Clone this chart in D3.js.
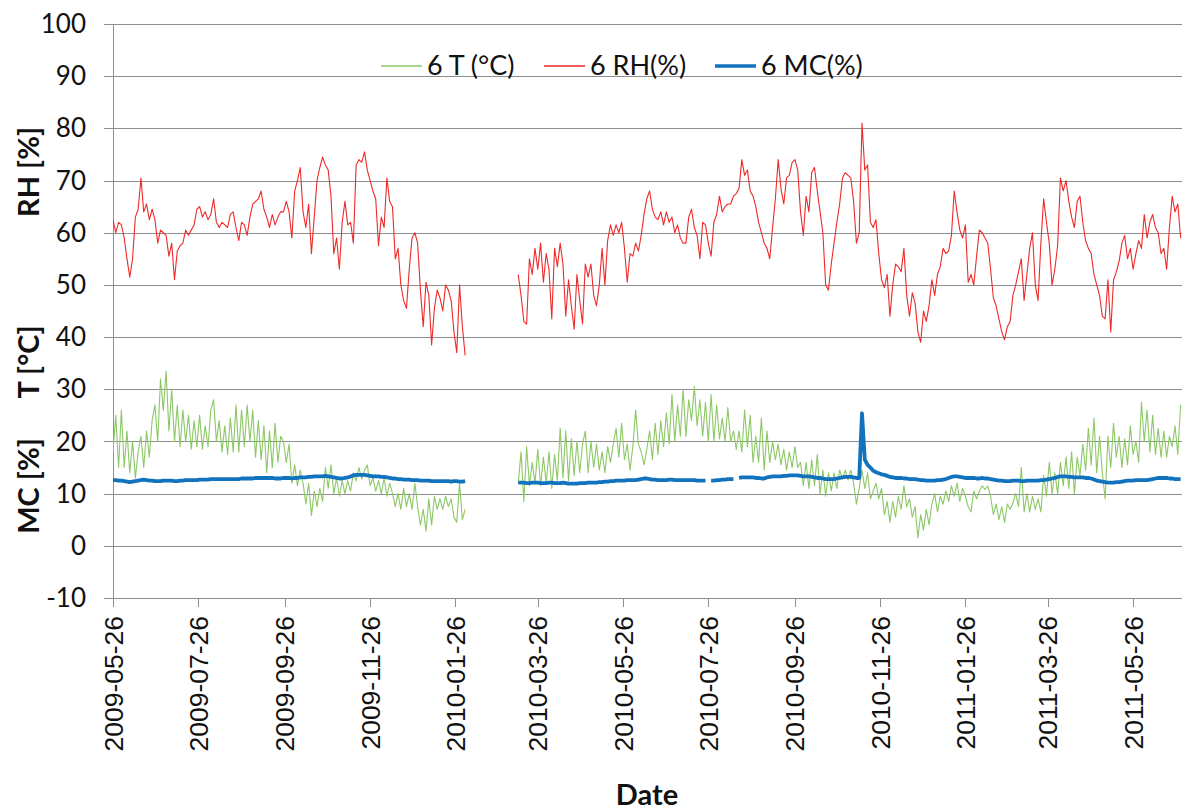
<!DOCTYPE html>
<html><head><meta charset="utf-8">
<script src="https://cdn.jsdelivr.net/npm/d3@7"></script>
<style>body{margin:0;background:#fff}svg{display:block}</style>
</head><body><svg id="chart" width="1182" height="812"></svg>
<script>
// ---------- data ----------
const tickLabels = ["2009-05-26","2009-07-26","2009-09-26","2009-11-26","2010-01-26","2010-03-26",
  "2010-05-26","2010-07-26","2010-09-26","2010-11-26","2011-01-26","2011-03-26","2011-05-26"];
const yTickValues = [-10,0,10,20,30,40,50,60,70,80,90,100];
const seriesNames = ["6 T (°C)", "6 RH(%)", "6 MC(%)"];
const domainStart = "2009-05-26", domainEnd = "2011-06-30";
const startA = "2009-05-26";   // first logging period, one reading every 2 days
const startB = "2010-03-12";   // second logging period, one reading every 2 days
const stepDays = 2;

const rhA = [62.5,60,62,61.5,59,55,51.5,55,63,64.5,
 70.5,64,65.5,62.5,64.5,62.5,58,60.5,60,59.5,
 55.5,58,51,56.5,57.5,58,60.5,59.5,60.5,61.5,
 64.5,65,63,64,62.5,63.5,66.5,62,61,62,
 61.5,61,63.5,64,61,58.5,62,61.5,59.5,63,
 65.5,66,66.5,68,64.5,63,61,63.5,61.5,63,
 64,64,66,64,59,68,70,72.5,64,61,
 65.5,56,63,70,72.5,74.5,73,72,67,56,
 59,53,62,66,61.5,62,58,73,74,73.5,
 75.5,72,70,68,66.5,57.5,63,61,70.5,66,
 65,55,57,50,47,45.5,53,59,60,58,
 49,42,50.5,48,38.5,45.5,49,47.5,45,50,
 49,47,41,37,50,42,36.5];
const tA = [18,25,15,26,15,22,14,20,13,18,
 21,15,22,17,24,27,20,32,26,33.5,
 22,30,20,27,19,26,20,25,18.5,24,
 19,25,18.5,23,19,26,28,20,24,18,
 23,17.5,24.5,18,27,18,26,19,27,20,
 26,17,24,16.5,23,14,22,15,23.5,16,
 21,20,16,19.5,12,15.5,11.5,14.5,12,8,
 12,5.8,10.5,7.5,11,8.5,15,11,15.5,10,
 13,9.5,12.5,10,12.5,10.5,14,12.5,15,12.8,
 14.5,15.5,11.5,13,10.5,12.5,10,13,9.5,12,
 10,7.5,10,7,11,7.5,10,7,12,7.5,
 4,7,2.8,9,4,9.5,7,9,7,9.5,
 7.5,9,5.5,4.5,12,5,7];
const mcA = [12.6,12.6,12.5,12.5,12.4,12.3,12.2,12.3,12.4,12.5,
 12.6,12.7,12.6,12.5,12.5,12.4,12.4,12.4,12.5,12.5,
 12.5,12.5,12.4,12.4,12.5,12.5,12.6,12.6,12.6,12.6,
 12.6,12.7,12.7,12.7,12.7,12.8,12.8,12.8,12.8,12.8,
 12.8,12.8,12.8,12.8,12.8,12.8,12.9,12.9,12.9,12.9,
 12.9,13,13,13,13,13,13,13,12.9,12.9,
 12.9,13,13,13,12.9,13,13,13.1,13.1,13.1,
 13.2,13.2,13.3,13.3,13.3,13.3,13.4,13.3,13.2,13.1,
 13.0,12.9,12.9,13.0,13.1,13.3,13.5,13.6,13.6,13.6,
 13.6,13.5,13.4,13.3,13.3,13.3,13.2,13.2,13.1,13.0,
 12.9,12.9,12.8,12.8,12.7,12.7,12.7,12.6,12.6,12.6,
 12.5,12.5,12.5,12.5,12.4,12.4,12.4,12.4,12.4,12.4,
 12.4,12.3,12.4,12.4,12.3,12.3,12.4];

const rhB = [52,48,43,42.5,55,52,57,53,58,50.5,
 56,53,43.5,57,53.5,58,54,44,51,46,
 41.5,52,47,42.5,54,51.5,54,48,46,50,
 57,50,58.5,61.5,59.5,61.5,60,62,57,50.5,
 56,55.5,58,56.5,59.5,63.5,66.5,68,64.5,63,
 62.5,64,61.5,64,62,63,60,61.5,59,58,
 58,63,64.5,61,59.5,55,62,61.5,58,55.5,
 62,63.5,67,64,65,65.5,65.5,67,67.5,68.5,
 74,71,72,68,67,65,62,60,58,57,
 55,61,66.5,74,68.5,65.5,70.5,71,73.5,74,
 72,64,59.5,67,64,71.5,72.5,68,64,60,
 50,49,54,58,62,65.5,70.5,71.5,71,70.5,
 66,58,60,81,72,73,62,61,62.5,56,
 51,49.5,52,44,50,54,53.5,52.5,57,48,
 44,48.5,46.5,41,39,45,43,46,51,48,
 52,53.5,57,56,56.5,59.5,68,64,60.5,59,
 61.5,50.5,52,50,55.5,60.5,60,59,58,53,
 47.5,46,43.5,41,39.5,42,43,48,50,52.5,
 55,47,52,57,60,50,47,58,66.5,62,
 58,50,53,57.5,70.5,68,70,66,63,61,
 66,67,62,58.5,57,56,52,50,48,44,
 43.5,51,41,51,52.5,54.5,58,59.5,55,57,
 53,56,58.5,57,63.5,59,62,63.5,61,60,
 56,57,53,61,67,64,65.5,59];
const tB = [12,18,8.5,19,11.5,16,12,18.5,11.5,17,
 12,18,11,17.5,12.5,22.5,13,22,12.5,20.5,
 13.5,20,14,19.5,22,14,20,15,19.5,14.5,
 18,14,19,16,19.5,22.5,17,23.5,16.5,19.5,
 14.5,19,26,19.5,18,15.5,18.5,22,16.5,23.5,
 17.5,24,19,25.5,19.5,29,20,27,21,30,
 21,28,24,30.5,23,28,21,27.5,20,29,
 20,27,20.5,24.5,20,26.5,20,22,18.5,22,
 18,26,19,25,16,21,16,24.5,14.5,22,
 16,20,16.5,19.5,15.5,18.5,14.5,18,15,19,
 15,16,11.5,16,11,16.5,11.5,17.5,10,14.5,
 9.5,14,10.5,14,11,14.5,12.8,14.5,12.6,14.5,
 12,8,11,14.5,11,14,9,10.5,12,9,
 11,6,8.5,4.5,8.5,5.5,9.5,7,11.5,7.5,
 9,5.5,7.5,1.5,6,3,7,4,8,10,
 6.5,9.5,8,10.5,8.5,11.5,9.5,12,8.5,11,
 9.5,7.5,6.5,10.5,9,10.5,11.5,10.8,11.5,9.5,
 6,8,5,7.5,4.5,8,7,8.2,10,7.5,
 15,6.5,10,6.5,9.5,7,9,6.5,13.5,9.5,
 16,10,14,10,16,11.5,17,11,18,10,
 17,13.5,19.5,14.5,22.5,15.5,24.5,14,21,14,
 9,21,15,23.5,17,21,15,20.5,15.5,23,
 17.5,20,16,27.5,20,26,18,25,17.5,22.5,
 17,22,17,21,19,23,17.5,27];
const mcB = [12.1,12.1,12.1,12.0,12.0,12.1,12.1,12.1,12.0,12.0,
 12.0,12.1,12.1,12.0,12.0,12.0,12.1,12.0,11.9,11.9,
 11.9,11.9,12.0,12.0,12.0,12.1,12.1,12.1,12.1,12.2,
 12.2,12.3,12.3,12.4,12.4,12.5,12.5,12.5,12.5,12.6,
 12.6,12.6,12.6,12.7,12.8,12.9,12.9,12.8,12.7,12.7,
 12.6,12.6,12.6,12.6,12.7,12.7,12.6,12.6,12.6,12.6,
 12.6,12.6,12.6,12.6,12.5,12.5,12.5,12.5,null,12.5,
 12.5,12.6,12.6,12.7,12.7,12.8,12.8,12.8,null,13.0,
 13.1,13.1,13.1,13.1,13.1,13.0,13.0,12.9,12.9,13.1,
 13.2,13.3,13.3,13.3,13.3,13.4,13.4,13.5,13.5,13.5,
 13.5,13.4,13.3,13.3,13.3,13.2,13.1,13.0,13.0,12.9,
 12.8,12.8,12.8,12.8,12.9,13.0,13.1,13.2,13.2,13.2,
 13.1,13.0,13.0,25.4,16.5,15.5,15.0,14.4,14.1,13.9,
 13.7,13.6,13.4,13.2,13.1,13.0,13.0,13.0,12.9,12.9,
 12.8,12.8,12.8,12.7,12.6,12.6,12.5,12.5,12.5,12.5,
 12.6,12.6,12.7,12.8,13.0,13.2,13.3,13.3,13.2,13.1,
 13.0,13.0,13.0,13.0,12.9,12.9,13.0,12.9,12.9,12.8,
 12.7,12.6,12.5,12.5,12.4,12.4,12.4,12.5,12.5,12.5,
 12.4,12.4,12.5,12.5,12.5,12.5,12.5,12.6,12.6,12.7,
 12.8,12.9,13.0,13.2,13.3,13.3,13.3,13.2,13.2,13.1,
 13.1,13.1,13.1,13.0,13.0,12.9,12.7,12.5,12.4,12.3,
 12.2,12.1,12.1,12.1,12.2,12.2,12.3,12.4,12.5,12.5,
 12.5,12.6,12.6,12.6,12.6,12.6,12.7,12.8,12.9,13.0,
 13.0,13.0,13.0,12.9,12.9,12.8,12.8,12.8];

const seriesColors = ["#8cc866", "#ee2a2a", "#1172bd"];

// ---------- chart ----------
const parse = d3.utcParse("%Y-%m-%d");
const svg = d3.select("#chart");
const L = 113, R = 1182, T = 24, B = 598;

const x = d3.scaleUtc().domain([parse(domainStart), parse(domainEnd)]).range([L, R]);
const y = d3.scaleLinear().domain([-10, 100]).range([B, T]);

const gridColor = "#8e8e8e";
// horizontal gridlines + left tick marks
svg.append("g").selectAll("line").data(yTickValues).join("line")
  .attr("x1", L - 9).attr("x2", R)
  .attr("y1", d => Math.round(y(d)) + 0.5).attr("y2", d => Math.round(y(d)) + 0.5)
  .attr("stroke", gridColor).attr("stroke-width", 1);
// vertical axis
svg.append("line").attr("x1", L + 0.5).attr("x2", L + 0.5).attr("y1", T).attr("y2", B + 9)
  .attr("stroke", gridColor);

// y tick labels
svg.append("g").selectAll("text").data(yTickValues).join("text")
  .attr("x", 86).attr("y", d => y(d)).attr("dy", "0.35em")
  .attr("text-anchor", "end")
  .style("font-family", "Lato, 'Open Sans', sans-serif").style("font-size", "26px").style("fill", "#111")
  .text(d => d);

// x ticks
const tickDates = tickLabels.map(parse);
svg.append("g").selectAll("line").data(tickDates).join("line")
  .attr("x1", d => Math.round(x(d)) + 0.5).attr("x2", d => Math.round(x(d)) + 0.5)
  .attr("y1", B).attr("y2", B + 9).attr("stroke", gridColor);
svg.append("g").selectAll("text").data(tickLabels).join("text")
  .attr("transform", d => `translate(${x(parse(d))},616) rotate(-90)`)
  .attr("dy", "0.36em").attr("text-anchor", "end")
  .style("font-family", "'Liberation Sans', Arial, sans-serif").style("font-size", "26.5px").style("fill", "#111")
  .text(d => d);

// axis titles
const titleStyle = sel => sel.style("font-family", "Lato, 'Open Sans', sans-serif")
  .style("font-weight", "bold").style("font-size", "29px").style("fill", "#111");
svg.append("text").attr("x", 647).attr("y", 805).attr("text-anchor", "middle").call(titleStyle).text("Date");
[["RH [%]", 172], ["T [°C]", 362], ["MC [%]", 486]].forEach(([t, cy]) => {
  svg.append("text").attr("transform", `translate(29,${cy}) rotate(-90)`)
    .attr("text-anchor", "middle").attr("dy", "0.36em").call(titleStyle).text(t);
});

// series
svg.append("clipPath").attr("id", "clip").append("rect")
  .attr("x", L).attr("y", 0).attr("width", R - L).attr("height", B);
const plot = svg.append("g").attr("clip-path", "url(#clip)");
const toPts = (arr, start) => {
  const s = parse(start);
  return arr.map((v, i) => ({ d: d3.utcDay.offset(s, i * stepDays), v }));
};
const line = d3.line().defined(p => p.v != null).x(p => x(p.d)).y(p => y(p.v));
const groups = [[tA, tB], [rhA, rhB], [mcA, mcB]];
const widths = [1.1, 1.1, 3.8];
groups.forEach((g, k) => {
  [[g[0], startA], [g[1], startB]].forEach(([arr, st]) => {
    plot.append("path").datum(toPts(arr, st)).attr("d", line)
      .attr("fill", "none").attr("stroke", seriesColors[k])
      .attr("stroke-width", widths[k]).attr("stroke-linejoin", "round");
  });
});

// legend
const legX = [381, 544, 715];
const lg = svg.append("g");
seriesNames.forEach((n, k) => {
  lg.append("line").attr("x1", legX[k]).attr("x2", legX[k] + 41).attr("y1", 66).attr("y2", 66)
    .attr("stroke", seriesColors[k]).attr("stroke-width", widths[k] + (k < 2 ? 0.4 : -0.4));
  lg.append("text").attr("x", legX[k] + 46).attr("y", 66).attr("dy", "0.35em")
    .style("font-family", "Lato, 'Open Sans', sans-serif").style("font-size", "27px").style("fill", "#111")
    .text(n);
});
</script></body></html>
